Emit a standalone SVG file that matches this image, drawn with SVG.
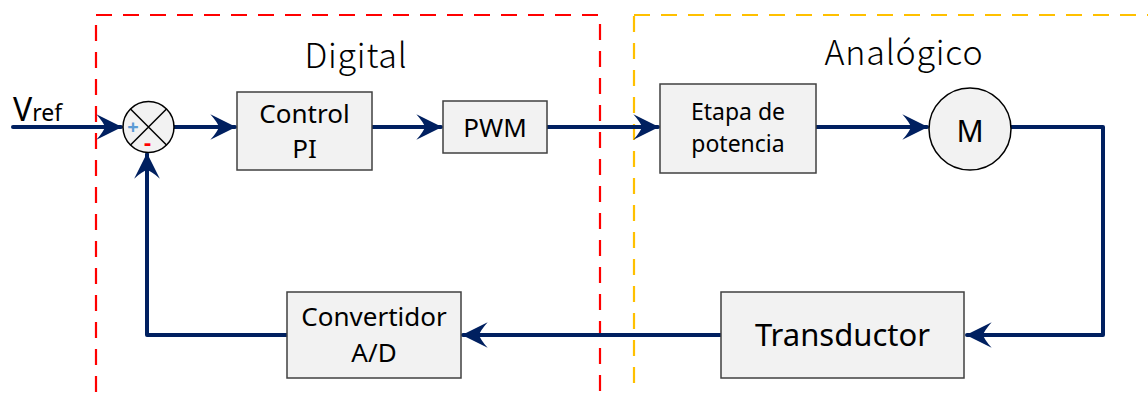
<svg xmlns="http://www.w3.org/2000/svg" width="1148" height="394" viewBox="0 0 1148 394">
  <style>
    .zone { fill: none; stroke-width: 2.2; stroke-dasharray: 16 11; }
    .block { fill: #f2f2f2; stroke: #404040; stroke-width: 1.5; }
    .wire { fill: none; stroke: #002060; stroke-width: 4; stroke-linejoin: round; stroke-linecap: round; }
    .lbl { font-family: "Noto Sans", "Open Sans", sans-serif; fill: #000; text-anchor: middle; }
    .title { font-family: "Noto Sans CJK KR", "Noto Sans", sans-serif; font-weight: 300; fill: #000; text-anchor: middle; font-size: 34px; letter-spacing: 0.8px; }
  </style>
  <defs>
    <marker id="arrow" markerUnits="userSpaceOnUse" markerWidth="30" markerHeight="30" viewBox="-26 -14 28 28" refX="0" refY="0" orient="auto">
      <path d="M1,0 L-23,-12 Q-16,-4 -15,0 Q-16,4 -23,12 Z" fill="#002060"/>
    </marker>
  </defs>

  <rect width="1148" height="394" fill="#ffffff"/>

  <!-- domain regions -->
  <g id="zone-digital">
    <rect class="zone" x="96" y="15" width="504" height="400" stroke="#ff0000"/>
    <text class="title" x="356" y="68">Digital</text>
  </g>
  <g id="zone-analogico">
    <rect class="zone" x="634" y="15" width="540" height="400" stroke="#ffc000"/>
    <text class="title" x="904" y="65">Analógico</text>
  </g>

  <!-- connectors -->
  <g id="connectors">
    <path class="wire" d="M13,127 H121" marker-end="url(#arrow)"/>
    <path class="wire" d="M174,127 H235" marker-end="url(#arrow)"/>
    <path class="wire" d="M372,127 H441" marker-end="url(#arrow)"/>
    <path class="wire" d="M547,127 H658" marker-end="url(#arrow)"/>
    <path class="wire" d="M816,127 H927" marker-end="url(#arrow)"/>
    <path class="wire" d="M1011,127 H1103 V335 H967" marker-end="url(#arrow)"/>
    <path class="wire" d="M721,335 H463" marker-end="url(#arrow)"/>
    <path class="wire" d="M287,335 H147 V154" marker-end="url(#arrow)"/>
  </g>

  <!-- reference input -->
  <g id="vref">
    <text x="13" y="121" font-family="Noto Sans, sans-serif" font-size="32">V<tspan font-size="23">ref</tspan></text>
  </g>

  <!-- summing junction -->
  <g id="sum">
    <circle cx="148.5" cy="127" r="25.5" fill="#f2f2f2" stroke="#000" stroke-width="1.5"/>
    <path d="M130.5,109 L166.5,145 M166.5,109 L130.5,145" stroke="#000" stroke-width="1.5"/>
    <text class="lbl" x="133" y="134" font-size="20" font-weight="bold" style="fill:#5b9bd5">+</text>
    <text class="lbl" x="147.5" y="150" font-size="22" font-weight="bold" style="fill:#ff0000">-</text>
  </g>

  <g id="control-pi">
    <rect class="block" x="237" y="92" width="135" height="78"/>
    <text class="lbl" x="304.5" y="123" font-size="26">Control</text>
    <text class="lbl" x="304.5" y="158" font-size="26">PI</text>
  </g>

  <g id="pwm">
    <rect class="block" x="443" y="101" width="104" height="52"/>
    <text class="lbl" x="495" y="137" font-size="26">PWM</text>
  </g>

  <g id="etapa-potencia">
    <rect class="block" x="660" y="84" width="156" height="89"/>
    <text class="lbl" x="738" y="120" font-size="23">Etapa de</text>
    <text class="lbl" x="738" y="152" font-size="23">potencia</text>
  </g>

  <g id="motor">
    <circle cx="970" cy="129" r="41" fill="#f2f2f2" stroke="#000" stroke-width="1.5"/>
    <text class="lbl" x="970" y="142" font-size="30">M</text>
  </g>

  <g id="transductor">
    <rect class="block" x="721" y="292" width="243" height="86"/>
    <text class="lbl" x="842.5" y="346" font-size="31">Transductor</text>
  </g>

  <g id="convertidor">
    <rect class="block" x="287" y="292" width="174" height="86"/>
    <text class="lbl" x="374" y="326" font-size="26">Convertidor</text>
    <text class="lbl" x="374" y="362" font-size="26">A/D</text>
  </g>
</svg>
